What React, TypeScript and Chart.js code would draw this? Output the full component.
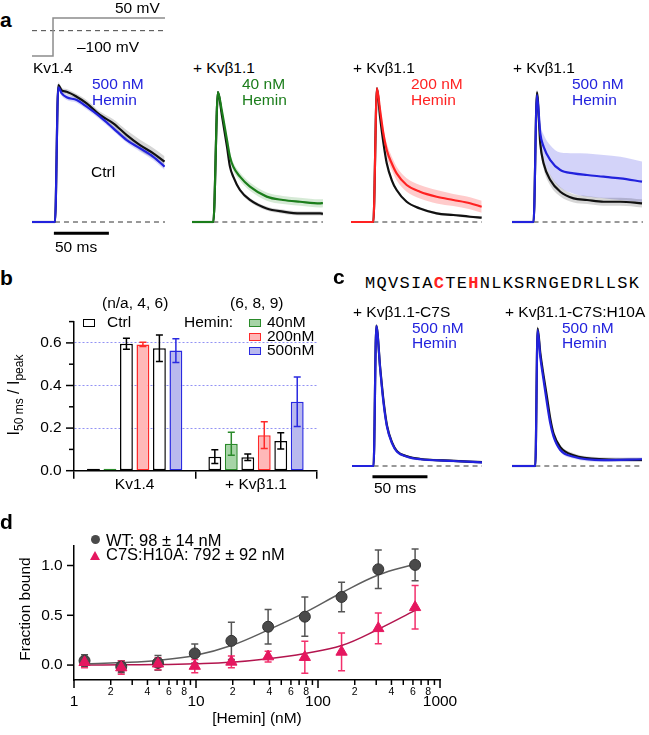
import React, { useEffect, useRef } from 'react';
import { Chart, registerables } from 'chart.js';

Chart.register(...registerables);

const FONT = '"Liberation Sans", Arial, Helvetica, sans-serif';
const MONO = '"Liberation Mono", "DejaVu Sans Mono", monospace';
const BLUE = '#2222dd';
const GREEN = '#1b7d1b';
const RED = '#ff2222';
const BLACK = '#111111';

// ---------------- Panel a: voltage protocol ----------------
const STEP_T = [0, 19.1, 19.1, 120.9];
const STEP_MV = [-100, -100, 50, 50];
const ZERO_T = [0, 120.9];
const ZERO_MV = [0, 0];

// ---------------- Panel a: traces (time ms, normalised current) ----------------
const A1_T = [0, 20.9, 23.9, 27, 31.5, 40.6, 49.7, 61.8, 73.9, 86.1, 98.2, 110.3, 120.5];
const A1_CTRL = [0, 0, 1.015, 0.975, 0.965, 0.928, 0.879, 0.793, 0.731, 0.644, 0.57, 0.509, 0.447];
const A1_CTRL_SEM = [0.01, 0.01, 0.02, 0.02, 0.02, 0.02, 0.025, 0.025, 0.03, 0.035, 0.04, 0.04, 0.04];
const A1_HEMIN = [0, 0, 0.998, 0.953, 0.924, 0.904, 0.854, 0.78, 0.694, 0.607, 0.546, 0.483, 0.41];
const A1_HEMIN_SEM = [0.01, 0.01, 0.02, 0.02, 0.02, 0.02, 0.02, 0.02, 0.02, 0.02, 0.025, 0.025, 0.025];

const A2_T = [0, 19.4, 23.6, 27, 31.8, 34.5, 37.5, 43.6, 52.7, 67.9, 82.7, 98.2, 116.4, 119];
const A2_CTRL = [0, 0, 0.963, 0.8, 0.558, 0.41, 0.336, 0.237, 0.163, 0.1, 0.077, 0.064, 0.064, 0.06];
const A2_CTRL_SEM = [0.01, 0.01, 0.01, 0.015, 0.015, 0.015, 0.015, 0.015, 0.015, 0.015, 0.015, 0.015, 0.015, 0.015];
const A2_HEMIN = [0, 0, 0.963, 0.83, 0.607, 0.484, 0.41, 0.336, 0.262, 0.188, 0.163, 0.15, 0.138, 0.14];
const A2_HEMIN_SEM = [0.01, 0.01, 0.01, 0.02, 0.03, 0.03, 0.03, 0.03, 0.03, 0.03, 0.03, 0.03, 0.03, 0.03];

const A3_T = [0, 20.3, 23.6, 26.4, 29.4, 32.5, 37, 41.5, 50.6, 62.7, 77.9, 93, 108.2, 118.8];
const A3_CTRL = [0, 0, 0.99, 0.78, 0.59, 0.435, 0.311, 0.237, 0.15, 0.1, 0.064, 0.052, 0.039, 0.032];
const A3_CTRL_SEM = [0.003, 0.003, 0.01, 0.015, 0.015, 0.015, 0.012, 0.012, 0.01, 0.01, 0.01, 0.01, 0.01, 0.01];
const A3_HEMIN = [0, 0, 0.99, 0.83, 0.657, 0.533, 0.435, 0.36, 0.274, 0.224, 0.187, 0.163, 0.139, 0.113];
const A3_HEMIN_SEM = [0.005, 0.005, 0.01, 0.03, 0.04, 0.05, 0.05, 0.05, 0.05, 0.05, 0.05, 0.045, 0.045, 0.045];

const A4_T = [0, 19.6, 22.7, 25.7, 28.7, 34.8, 43.9, 56, 68.2, 83.3, 98.5, 118.2];
const A4_CTRL = [0, 0, 0.96, 0.58, 0.435, 0.311, 0.224, 0.175, 0.163, 0.15, 0.15, 0.138];
const A4_CTRL_SEM = [0.01, 0.01, 0.02, 0.04, 0.04, 0.04, 0.035, 0.03, 0.03, 0.03, 0.03, 0.03];
const A4_HEMIN = [0, 0, 0.94, 0.657, 0.558, 0.459, 0.385, 0.36, 0.348, 0.336, 0.323, 0.299];
const A4_HEMIN_SEM = [0.01, 0.01, 0.04, 0.07, 0.09, 0.11, 0.13, 0.15, 0.16, 0.16, 0.16, 0.15];

// ---------------- Panel c: traces ----------------
const C1_T = [0, 19.6, 22.1, 25.7, 28.7, 31.8, 36.4, 40.9, 50, 62.1, 92.4, 118.2];
const C1_CTRL = [0, 0, 1.04, 0.72, 0.48, 0.3, 0.175, 0.11, 0.072, 0.052, 0.038, 0.028];
const C1_HEMIN = [0, 0, 1.037, 0.711, 0.464, 0.291, 0.168, 0.106, 0.069, 0.05, 0.037, 0.027];
const C1_SEM = [0.005, 0.005, 0.01, 0.015, 0.015, 0.012, 0.01, 0.01, 0.01, 0.01, 0.01, 0.01];

const C2_T = [0, 21.2, 23.3, 25.7, 28.7, 31.8, 34.8, 37.8, 43.9, 56, 83.3, 118.2];
const C2_CTRL = [0, 0, 1.02, 0.84, 0.67, 0.51, 0.35, 0.24, 0.14, 0.08, 0.05, 0.045];
const C2_HEMIN = [0, 0, 1.007, 0.81, 0.637, 0.464, 0.316, 0.217, 0.119, 0.069, 0.044, 0.05];
const C2_SEM = [0.01, 0.01, 0.02, 0.02, 0.02, 0.02, 0.02, 0.015, 0.015, 0.015, 0.015, 0.015];

const SCALEBAR_MS = 50;

// ---------------- Panel b: bars ----------------
const B_GROUPS = ['Kv1.4', '+ Kvβ1.1'];
const B_CTRL_1 = [0, 0.066];
const B_CTRL_1_ERR = [0, 0.032];
const B_HEMIN_40 = [0, 0.127];
const B_HEMIN_40_ERR = [0, 0.054];
const B_CTRL_2 = [0.596, 0.063];
const B_CTRL_2_ERR = [0.026, 0.015];
const B_HEMIN_200 = [0.593, 0.167];
const B_HEMIN_200_ERR = [0.01, 0.063];
const B_CTRL_3 = [0.575, 0.14];
const B_CTRL_3_ERR = [0.062, 0.038];
const B_HEMIN_500 = [0.564, 0.324];
const B_HEMIN_500_ERR = [0.056, 0.116];
const B_Y_MAJOR = [0, 0.2, 0.4, 0.6];
const B_Y_MINOR = [0.1, 0.3, 0.5, 0.7];
const B_Y_GRID = [0.2, 0.4, 0.6];

// ---------------- Panel d: binding ----------------
const HEMIN_NM = [1.22, 2.44, 4.88, 9.77, 19.5, 39, 78, 156, 312, 625];
const WT_FRAC = [0.044, -0.016, 0.022, 0.117, 0.243, 0.385, 0.486, 0.684, 0.962, 1.006];
const WT_ERR = [0.06, 0.06, 0.073, 0.095, 0.186, 0.173, 0.197, 0.148, 0.194, 0.159];
const MUT_FRAC = [0.028, -0.025, 0.013, -0.01, 0.032, 0.085, 0.079, 0.132, 0.369, 0.58];
const MUT_ERR = [0.055, 0.066, 0.06, 0.066, 0.06, 0.054, 0.16, 0.19, 0.155, 0.218];
const FIT_NM = [1.22, 2.44, 4.88, 9.77, 19.5, 39, 78, 156, 312, 625];
const WT_FIT = [0.013, 0.025, 0.047, 0.095, 0.196, 0.353, 0.527, 0.726, 0.905, 1.015];
const MUT_FIT = [0.0, 0.002, 0.005, 0.013, 0.028, 0.063, 0.117, 0.196, 0.36, 0.549];
const D_X_MAJOR = [1, 10, 100, 1000];
const D_X_MINOR = [2, 3, 4, 5, 6, 7, 8, 9, 20, 30, 40, 50, 60, 70, 80, 90, 200, 300, 400, 500, 600, 700, 800, 900];
const D_X_LABELED_MINOR = [2, 4, 6, 8];
const D_Y_TICKS = [0, 0.5, 1.0];

const SEQ = 'MQVSIACTEHNLKSRNGEDRLLSK';
const SEQ_HIGHLIGHT = [6, 9];

// ---------------- helpers ----------------
const xy = (t: number[], v: number[]) => t.map((x, i) => ({ x, y: v[i] }));
const near = (a: number, list: number[]) => list.some((b) => Math.abs(a - b) < 1e-6);

type Trace = { t: number[]; v: number[]; sem?: number[]; color: string; band: string; order: number };

function traceDatasets(traces: Trace[], stepT: number, endT: number, scaleBarY?: number) {
  const ds: any[] = [];
  traces.forEach((tr, k) => {
    if (tr.sem) {
      const sem = tr.sem;
      ds.push({
        data: xy(tr.t, tr.v.map((y, i) => y + sem[i])),
        borderWidth: 0, pointRadius: 0, fill: false, order: 20 + k,
        cubicInterpolationMode: 'monotone',
      });
      ds.push({
        data: xy(tr.t, tr.v.map((y, i) => y - sem[i])),
        borderWidth: 0, pointRadius: 0, fill: '-1', backgroundColor: tr.band, order: 20 + k,
        cubicInterpolationMode: 'monotone',
      });
    }
  });
  ds.push({
    data: [{ x: stepT, y: 0 }, { x: endT, y: 0 }],
    borderColor: '#333', borderWidth: 1, borderDash: [5, 4], pointRadius: 0, order: 8,
  });
  traces.forEach((tr) => {
    ds.push({
      data: xy(tr.t, tr.v),
      borderColor: tr.color, borderWidth: 2.2, pointRadius: 0, fill: false, order: tr.order,
      cubicInterpolationMode: 'monotone',
    });
  });
  if (scaleBarY !== undefined) {
    ds.push({
      data: [{ x: stepT - 1, y: scaleBarY }, { x: stepT - 1 + SCALEBAR_MS, y: scaleBarY }],
      borderColor: '#000', borderWidth: 3, pointRadius: 0, order: 0,
    });
  }
  return ds;
}

function plainConfig(datasets: any[], xmax: number, ymin: number, ymax: number) {
  return {
    type: 'line',
    data: { datasets },
    options: {
      animation: false, responsive: false, devicePixelRatio: 1, events: [],
      layout: { padding: 0 },
      plugins: { legend: { display: false }, tooltip: { enabled: false } },
      scales: {
        x: { type: 'linear', min: 0, max: xmax, display: false },
        y: { type: 'linear', min: ymin, max: ymax, display: false },
      },
      elements: { point: { radius: 0 } },
    },
  };
}

type TickSpec = { scale: string; major: number[]; minor: number[]; majorLen: number; minorLen: number };
function tickPlugin(specs: TickSpec[]) {
  return {
    id: 'customTicks',
    afterDraw(chart: any) {
      const ctx = chart.ctx;
      ctx.save();
      ctx.strokeStyle = '#000';
      ctx.lineWidth = 1.5;
      for (const s of specs) {
        const sc = chart.scales[s.scale];
        const draw = (v: number, len: number) => {
          const p = sc.getPixelForValue(v);
          ctx.beginPath();
          if (sc.isHorizontal()) {
            ctx.moveTo(p, sc.top);
            ctx.lineTo(p, sc.top + len);
          } else {
            ctx.moveTo(sc.right - len, p);
            ctx.lineTo(sc.right, p);
          }
          ctx.stroke();
        };
        s.major.forEach((v) => draw(v, s.majorLen));
        s.minor.forEach((v) => draw(v, s.minorLen));
      }
      ctx.restore();
    },
  };
}

type ErrSpec = { datasetIndex: number; values: number[]; errors: number[]; color: string; cap: number };
function errorPlugin(specs: ErrSpec[], hook: 'beforeDatasetsDraw' | 'afterDatasetsDraw') {
  return {
    id: 'errBars',
    [hook](chart: any) {
      const ctx = chart.ctx;
      const ys = chart.scales.y;
      ctx.save();
      ctx.lineWidth = 1.5;
      for (const s of specs) {
        const meta = chart.getDatasetMeta(s.datasetIndex);
        s.values.forEach((v, j) => {
          const e = s.errors[j];
          if (!e) return;
          const el = meta.data[j];
          if (!el) return;
          const x = el.x;
          const y1 = ys.getPixelForValue(v + e);
          const y2 = ys.getPixelForValue(v - e);
          ctx.strokeStyle = s.color;
          ctx.beginPath();
          ctx.moveTo(x, y1); ctx.lineTo(x, y2);
          ctx.moveTo(x - s.cap, y1); ctx.lineTo(x + s.cap, y1);
          ctx.moveTo(x - s.cap, y2); ctx.lineTo(x + s.cap, y2);
          ctx.stroke();
        });
      }
      ctx.restore();
    },
  };
}

// ---------------- components ----------------
function ChartBox({ left, top, width, height, make }: { left: number; top: number; width: number; height: number; make: () => any }) {
  const ref = useRef<HTMLCanvasElement>(null);
  useEffect(() => {
    const chart = new Chart(ref.current as HTMLCanvasElement, make());
    return () => chart.destroy();
  }, []);
  return (
    <canvas
      ref={ref}
      width={width}
      height={height}
      style={{ position: 'absolute', left, top, width, height, display: 'block' }}
    />
  );
}

function T({ x, y, children, color = '#000', size = 15.5, bold = false, anchor = 'left', family = FONT }: any) {
  const tx = anchor === 'left' ? '0' : anchor === 'center' ? '-50%' : '-100%';
  return (
    <div
      style={{
        position: 'absolute', left: x, top: y, transform: `translate(${tx},-50%)`,
        color, fontSize: size, fontWeight: bold ? 700 : 400, fontFamily: family,
        whiteSpace: 'nowrap', lineHeight: 1,
      }}
    >
      {children}
    </div>
  );
}

function Box({ x, y, fill, stroke }: any) {
  return (
    <div
      style={{
        position: 'absolute', left: x, top: y, width: 11.5, height: 8, boxSizing: 'border-box',
        border: `1.5px solid ${stroke}`, background: fill,
      }}
    />
  );
}

// trace canvas geometry (px)
const A_TOP = 78;
const A_H = 160;
const A_BASE = 222;
const C_TOP = 318;
const C_H = 164;
const C_BASE = 466;
const PX_PER_UNIT = 135;
const PX_PER_MS = 1.1;

function traceBox(left: number, width: number, top: number, height: number, base: number, traces: Trace[], stepT: number, scaleBarPx?: number) {
  const xmax = width / PX_PER_MS;
  const ymax = (base - top) / PX_PER_UNIT;
  const ymin = (base - (top + height)) / PX_PER_UNIT;
  const sb = scaleBarPx === undefined ? undefined : (base - scaleBarPx) / PX_PER_UNIT;
  return (
    <ChartBox
      left={left} top={top} width={width} height={height}
      make={() => plainConfig(traceDatasets(traces, stepT, xmax, sb), xmax, ymin, ymax)}
    />
  );
}

const GREY_BAND = 'rgba(0,0,0,0.16)';

export default function App() {
  const voltage = () => {
    const cfg: any = plainConfig(
      [
        { data: xy(STEP_T, STEP_MV), borderColor: '#8c8c8c', borderWidth: 1.5, pointRadius: 0 },
        { data: xy(ZERO_T, ZERO_MV), borderColor: '#444', borderWidth: 1, borderDash: [5, 4], pointRadius: 0 },
      ],
      133 / PX_PER_MS, -123.7, 81.6,
    );
    return cfg;
  };

  const barChart = () => {
    const series = [
      { v: B_CTRL_1, e: B_CTRL_1_ERR, fill: '#ffffff', stroke: '#000000' },
      { v: B_HEMIN_40, e: B_HEMIN_40_ERR, fill: '#a6d4a6', stroke: '#2a8a2a' },
      { v: B_CTRL_2, e: B_CTRL_2_ERR, fill: '#ffffff', stroke: '#000000' },
      { v: B_HEMIN_200, e: B_HEMIN_200_ERR, fill: '#ffb8b8', stroke: '#ff2a2a' },
      { v: B_CTRL_3, e: B_CTRL_3_ERR, fill: '#ffffff', stroke: '#000000' },
      { v: B_HEMIN_500, e: B_HEMIN_500_ERR, fill: '#b9b9ee', stroke: '#2a2ae0' },
    ];
    return {
      type: 'bar',
      data: {
        labels: B_GROUPS,
        datasets: series.map((s) => ({
          data: s.v, backgroundColor: s.fill, borderColor: s.stroke, borderWidth: 1.5,
          borderSkipped: false, minBarLength: 2, categoryPercentage: 0.815, barPercentage: 0.78,
        })),
      },
      options: {
        animation: false, responsive: false, devicePixelRatio: 1, events: [],
        layout: { padding: { left: 0, top: 15, right: 13.3, bottom: 0 } },
        plugins: { legend: { display: false }, tooltip: { enabled: false } },
        scales: {
          x: {
            grid: { drawOnChartArea: false, drawTicks: true, tickLength: 8, color: '#000', lineWidth: 1.5, offset: true },
            border: { color: '#000', width: 1.5 },
            ticks: { color: '#000', font: { family: FONT, size: 15.5 }, padding: -3, maxRotation: 0, autoSkip: false },
            afterFit: (s: any) => { s.height = 29.3; },
          },
          y: {
            min: 0, max: 0.7,
            afterBuildTicks: (s: any) => { s.ticks = [...B_Y_MAJOR, ...B_Y_MINOR].sort((a, b) => a - b).map((v) => ({ value: v })); },
            ticks: {
              color: '#000', font: { family: FONT, size: 15.5 }, padding: 12.3,
              callback: (v: any) => (near(Number(v), B_Y_MAJOR) ? Number(v).toFixed(1) : ''),
            },
            grid: {
              drawTicks: false, lineWidth: 1,
              color: (c: any) => (c.tick && near(c.tick.value, B_Y_GRID) ? 'rgba(110,110,240,0.75)' : 'rgba(0,0,0,0)'),
            },
            border: { color: '#000', width: 1.5, dash: [2, 2] },
            afterFit: (s: any) => { s.width = 74; },
          },
        },
      },
      plugins: [
        errorPlugin(series.map((s, i) => ({ datasetIndex: i, values: s.v, errors: s.e, color: s.stroke, cap: 3.5 })), 'afterDatasetsDraw'),
        tickPlugin([{ scale: 'y', major: B_Y_MAJOR, minor: B_Y_MINOR, majorLen: 8, minorLen: 5 }]),
      ],
    };
  };

  const bindChart = () => {
    const WT_C = '#4a4a4a';
    const MUT_C = '#e5175f';
    return {
      type: 'scatter',
      data: {
        datasets: [
          { data: xy(FIT_NM, WT_FIT), showLine: true, borderColor: '#5e5e5e', borderWidth: 1.5, pointRadius: 0, tension: 0.4, order: 3 },
          { data: xy(FIT_NM, MUT_FIT), showLine: true, borderColor: '#b3154e', borderWidth: 1.5, pointRadius: 0, tension: 0.4, order: 3 },
          { data: xy(HEMIN_NM, WT_FRAC), pointStyle: 'circle', pointRadius: 5.5, backgroundColor: WT_C, borderColor: '#333', borderWidth: 1, order: 2 },
          { data: xy(HEMIN_NM, MUT_FRAC), pointStyle: 'triangle', pointRadius: 6.5, backgroundColor: MUT_C, borderColor: MUT_C, borderWidth: 1, order: 1 },
        ],
      },
      options: {
        animation: false, responsive: false, devicePixelRatio: 1, events: [],
        layout: { padding: { left: 0, top: 11.7, right: 30, bottom: 0 } },
        plugins: { legend: { display: false }, tooltip: { enabled: false } },
        scales: {
          x: {
            type: 'logarithmic', min: 1, max: 1000,
            afterBuildTicks: (s: any) => { s.ticks = [...D_X_MAJOR, ...D_X_MINOR].sort((a, b) => a - b).map((v) => ({ value: v })); },
            grid: { display: false, drawTicks: false },
            border: { color: '#000', width: 1.5 },
            ticks: {
              color: '#000', autoSkip: false, maxRotation: 0, padding: 5.4,
              font: (c: any) => (c.tick && near(c.tick.value, D_X_MAJOR)
                ? { family: FONT, size: 15.5, lineHeight: 2.08 }
                : { family: FONT, size: 10.5, lineHeight: 1.2 }),
              callback: (v: any) => {
                const n = Number(v);
                if (near(n, D_X_MAJOR)) return String(n);
                const m = Math.round(n / Math.pow(10, Math.floor(Math.log10(n) + 1e-9)));
                return D_X_LABELED_MINOR.includes(m) ? String(m) : '';
              },
            },
            afterFit: (s: any) => { s.height = 55; },
          },
          y: {
            min: -0.15, max: 1.2,
            afterBuildTicks: (s: any) => { s.ticks = D_Y_TICKS.map((v) => ({ value: v })); },
            grid: { display: false, drawTicks: false },
            border: { color: '#000', width: 1.5 },
            ticks: { color: '#000', font: { family: FONT, size: 15.5 }, padding: 11.3, callback: (v: any) => Number(v).toFixed(1) },
            afterFit: (s: any) => { s.width = 74; },
          },
        },
      },
      plugins: [
        errorPlugin([
          { datasetIndex: 2, values: WT_FRAC, errors: WT_ERR, color: '#555555', cap: 3.5 },
          { datasetIndex: 3, values: MUT_FRAC, errors: MUT_ERR, color: '#f2306c', cap: 3.5 },
        ], 'beforeDatasetsDraw'),
        tickPlugin([
          { scale: 'x', major: D_X_MAJOR, minor: D_X_MINOR, majorLen: 8, minorLen: 5 },
          { scale: 'y', major: D_Y_TICKS, minor: [], majorLen: 7, minorLen: 0 },
        ]),
      ],
    };
  };

  return (
    <div style={{ position: 'absolute', left: 0, top: 0, width: 649, height: 735, overflow: 'hidden', background: '#fff', fontFamily: FONT }}>
      {/* panel a */}
      <ChartBox left={32} top={10} width={133} height={52} make={voltage} />
      {traceBox(32, 133, A_TOP, A_H, A_BASE, [
        { t: A1_T, v: A1_CTRL, sem: A1_CTRL_SEM, color: BLACK, band: GREY_BAND, order: 5 },
        { t: A1_T, v: A1_HEMIN, sem: A1_HEMIN_SEM, color: BLUE, band: 'rgba(60,60,230,0.2)', order: 2 },
      ], 20.9, 233.3)}
      {traceBox(192, 131, A_TOP, A_H, A_BASE, [
        { t: A2_T, v: A2_CTRL, sem: A2_CTRL_SEM, color: BLACK, band: GREY_BAND, order: 5 },
        { t: A2_T, v: A2_HEMIN, sem: A2_HEMIN_SEM, color: GREEN, band: 'rgba(30,140,30,0.18)', order: 2 },
      ], 19.4)}
      {traceBox(351, 131, A_TOP, A_H, A_BASE, [
        { t: A3_T, v: A3_CTRL, sem: A3_CTRL_SEM, color: BLACK, band: GREY_BAND, order: 5 },
        { t: A3_T, v: A3_HEMIN, sem: A3_HEMIN_SEM, color: RED, band: 'rgba(255,70,70,0.28)', order: 2 },
      ], 20.3)}
      {traceBox(512, 131, A_TOP, A_H, A_BASE, [
        { t: A4_T, v: A4_CTRL, sem: A4_CTRL_SEM, color: BLACK, band: GREY_BAND, order: 5 },
        { t: A4_T, v: A4_HEMIN, sem: A4_HEMIN_SEM, color: BLUE, band: 'rgba(70,70,230,0.24)', order: 2 },
      ], 19.6)}

      {/* panel c */}
      {traceBox(352, 130, C_TOP, C_H, C_BASE, [
        { t: C1_T, v: C1_CTRL, sem: C1_SEM, color: BLACK, band: GREY_BAND, order: 5 },
        { t: C1_T, v: C1_HEMIN, sem: C1_SEM, color: BLUE, band: 'rgba(70,70,230,0.2)', order: 2 },
      ], 19.6, 476.7)}
      {traceBox(512, 131, C_TOP, C_H, C_BASE, [
        { t: C2_T, v: C2_CTRL, sem: C2_SEM, color: BLACK, band: GREY_BAND, order: 5 },
        { t: C2_T, v: C2_HEMIN, sem: C2_SEM, color: BLUE, band: 'rgba(70,70,230,0.2)', order: 2 },
      ], 21.2)}

      {/* panel b */}
      <ChartBox left={0} top={300} width={330} height={200} make={barChart} />
      {/* panel d */}
      <ChartBox left={0} top={525} width={470} height={210} make={bindChart} />

      {/* ---- text: panel a ---- */}
      <T x={0} y={19} bold size={21}>a</T>
      <T x={115} y={8}>50 mV</T>
      <T x={77} y={47}>–100 mV</T>
      <T x={33} y={68}>Kv1.4</T>
      <T x={92} y={84} color={BLUE}>500 nM</T>
      <T x={92} y={100} color={BLUE}>Hemin</T>
      <T x={91} y={172}>Ctrl</T>
      <T x={193} y={68}>+ Kvβ1.1</T>
      <T x={242} y={84} color={GREEN}>40 nM</T>
      <T x={242} y={100} color={GREEN}>Hemin</T>
      <T x={353} y={68}>+ Kvβ1.1</T>
      <T x={411} y={84} color={RED}>200 nM</T>
      <T x={411} y={100} color={RED}>Hemin</T>
      <T x={513} y={68}>+ Kvβ1.1</T>
      <T x={572} y={84} color={BLUE}>500 nM</T>
      <T x={572} y={100} color={BLUE}>Hemin</T>
      <T x={55} y={247}>50 ms</T>

      {/* ---- text: panel b ---- */}
      <T x={0} y={277} bold size={21}>b</T>
      <T x={102} y={302.7}>(n/a, 4, 6)</T>
      <T x={230} y={302.7}>(6, 8, 9)</T>
      <Box x={83.3} y={319} fill="#fff" stroke="#000" />
      <T x={107} y={321.5}>Ctrl</T>
      <T x={184} y={321.7}>Hemin:</T>
      <Box x={249} y={319} fill="#a6d4a6" stroke="#2a8a2a" />
      <T x={267} y={322}>40nM</T>
      <Box x={249} y={332.5} fill="#ffb8b8" stroke="#ff2a2a" />
      <T x={267} y={336}>200nM</T>
      <Box x={249} y={346.5} fill="#b9b9ee" stroke="#2a2ae0" />
      <T x={267} y={350}>500nM</T>
      <div
        style={{
          position: 'absolute', left: 14, top: 395, transform: 'translate(-50%,-50%) rotate(-90deg)',
          fontFamily: FONT, fontSize: 16, whiteSpace: 'nowrap', lineHeight: 1, color: '#000',
        }}
      >
        I<span style={{ fontSize: '0.75em', position: 'relative', top: '0.3em' }}>50 ms</span> / I
        <span style={{ fontSize: '0.75em', position: 'relative', top: '0.3em' }}>peak</span>
      </div>

      {/* ---- text: panel c ---- */}
      <T x={333} y={275.5} bold size={21}>c</T>
      <div
        style={{
          position: 'absolute', left: 365, top: 283, transform: 'translateY(-50%)', fontFamily: MONO,
          fontSize: 17, letterSpacing: '1.26px', lineHeight: 1, whiteSpace: 'nowrap', color: '#000',
        }}
      >
        {SEQ.split('').map((ch, i) =>
          SEQ_HIGHLIGHT.includes(i) ? (
            <span key={i} style={{ color: RED, fontWeight: 700 }}>{ch}</span>
          ) : (
            <span key={i}>{ch}</span>
          ),
        )}
      </div>
      <T x={353} y={312}>+ Kvβ1.1-C7S</T>
      <T x={412} y={327.5} color={BLUE}>500 nM</T>
      <T x={412} y={343} color={BLUE}>Hemin</T>
      <T x={505} y={312}>+ Kvβ1.1-C7S:H10A</T>
      <T x={562} y={327.5} color={BLUE}>500 nM</T>
      <T x={562} y={343} color={BLUE}>Hemin</T>
      <T x={374} y={488}>50 ms</T>

      {/* ---- text: panel d ---- */}
      <T x={0} y={520.5} bold size={21}>d</T>
      <div style={{ position: 'absolute', left: 91.3, top: 534.5, width: 9, height: 9, borderRadius: '50%', background: '#4a4a4a' }} />
      <T x={106} y={539.5} size={16.5}>WT: 98 ± 14 nM</T>
      <div
        style={{
          position: 'absolute', left: 90, top: 550.5, width: 0, height: 0,
          borderLeft: '5px solid transparent', borderRight: '5px solid transparent', borderBottom: '9px solid #e5175f',
        }}
      />
      <T x={106} y={554} size={16.5}>C7S:H10A: 792 ± 92 nM</T>
      <div
        style={{
          position: 'absolute', left: 25, top: 609, transform: 'translate(-50%,-50%) rotate(-90deg)',
          fontFamily: FONT, fontSize: 15.5, whiteSpace: 'nowrap', lineHeight: 1, color: '#000',
        }}
      >
        Fraction bound
      </div>
      <T x={257} y={718} anchor="center">[Hemin] (nM)</T>
    </div>
  );
}
